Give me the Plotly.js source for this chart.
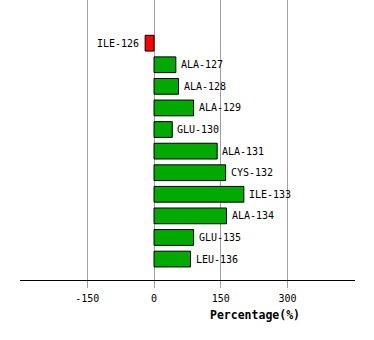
<!DOCTYPE html>
<html><head><meta charset="utf-8">
<script src="https://cdn.plot.ly/plotly-3.0.1.min.js"></script>
<style>html,body{margin:0;padding:0;background:#fff;}#chart{width:374px;height:340px;}</style>
</head><body><div id="chart"></div>
<script>
const residues = ["ILE-126","ALA-127","ALA-128","ALA-129","GLU-130","ALA-131","CYS-132","ILE-133","ALA-134","GLU-135","LEU-136"];
const percentages = [-20, 49, 55, 89, 41, 142, 161, 202, 163, 89, 82];
const xTickValues = [-150, 0, 150, 300];
const xTickLabels = ["-150", "0", "150", "300"];
const xTitle = "Percentage(%)";

const mono = "DejaVu Sans Mono, monospace";
const colors = percentages.map(v => v < 0 ? "#ff0000" : "#00aa00");

const trace = {
  type: "bar",
  orientation: "h",
  x: percentages,
  y: residues,
  width: 0.73,
  marker: {color: colors, line: {color: "#000000", width: 1}},
  hoverinfo: "none"
};

const annotations = residues.map((r, i) => ({
  x: percentages[i], y: r, xref: "x", yref: "y",
  text: r, showarrow: false,
  xanchor: percentages[i] < 0 ? "right" : "left",
  xshift: percentages[i] < 0 ? -4 : 3,
  font: {family: mono, size: 10, color: "#000"}
}));
annotations.push({
  x: 227, y: 0, xref: "x", yref: "paper", yanchor: "middle", yshift: -35,
  text: "<b>" + xTitle + "</b>", showarrow: false,
  font: {family: mono, size: 11.5, color: "#000"}
});

const layout = {
  width: 374, height: 340,
  margin: {l: 20, r: 19, t: 0, b: 60},
  paper_bgcolor: "#fff", plot_bgcolor: "#fff",
  showlegend: false,
  xaxis: {
    range: [-301.5, 452], tickvals: xTickValues, ticktext: xTickLabels,
    showgrid: true, gridcolor: "#a0a0a0", gridwidth: 1,
    zeroline: false, showline: true, linecolor: "#000", linewidth: 1,
    ticks: "outside", ticklen: 7, tickcolor: "#a0a0a0", tickwidth: 1,
    ticklabelstandoff: 2,
    tickfont: {family: mono, size: 10, color: "#000"}, fixedrange: true
  },
  yaxis: {
    type: "category", categoryorder: "array", categoryarray: residues,
    range: [10.97, -2], showticklabels: false, showgrid: false, zeroline: false,
    showline: false, ticks: "", fixedrange: true
  },
  annotations: annotations
};

Plotly.newPlot("chart", [trace], layout, {staticPlot: true, displayModeBar: false});
</script></body></html>
